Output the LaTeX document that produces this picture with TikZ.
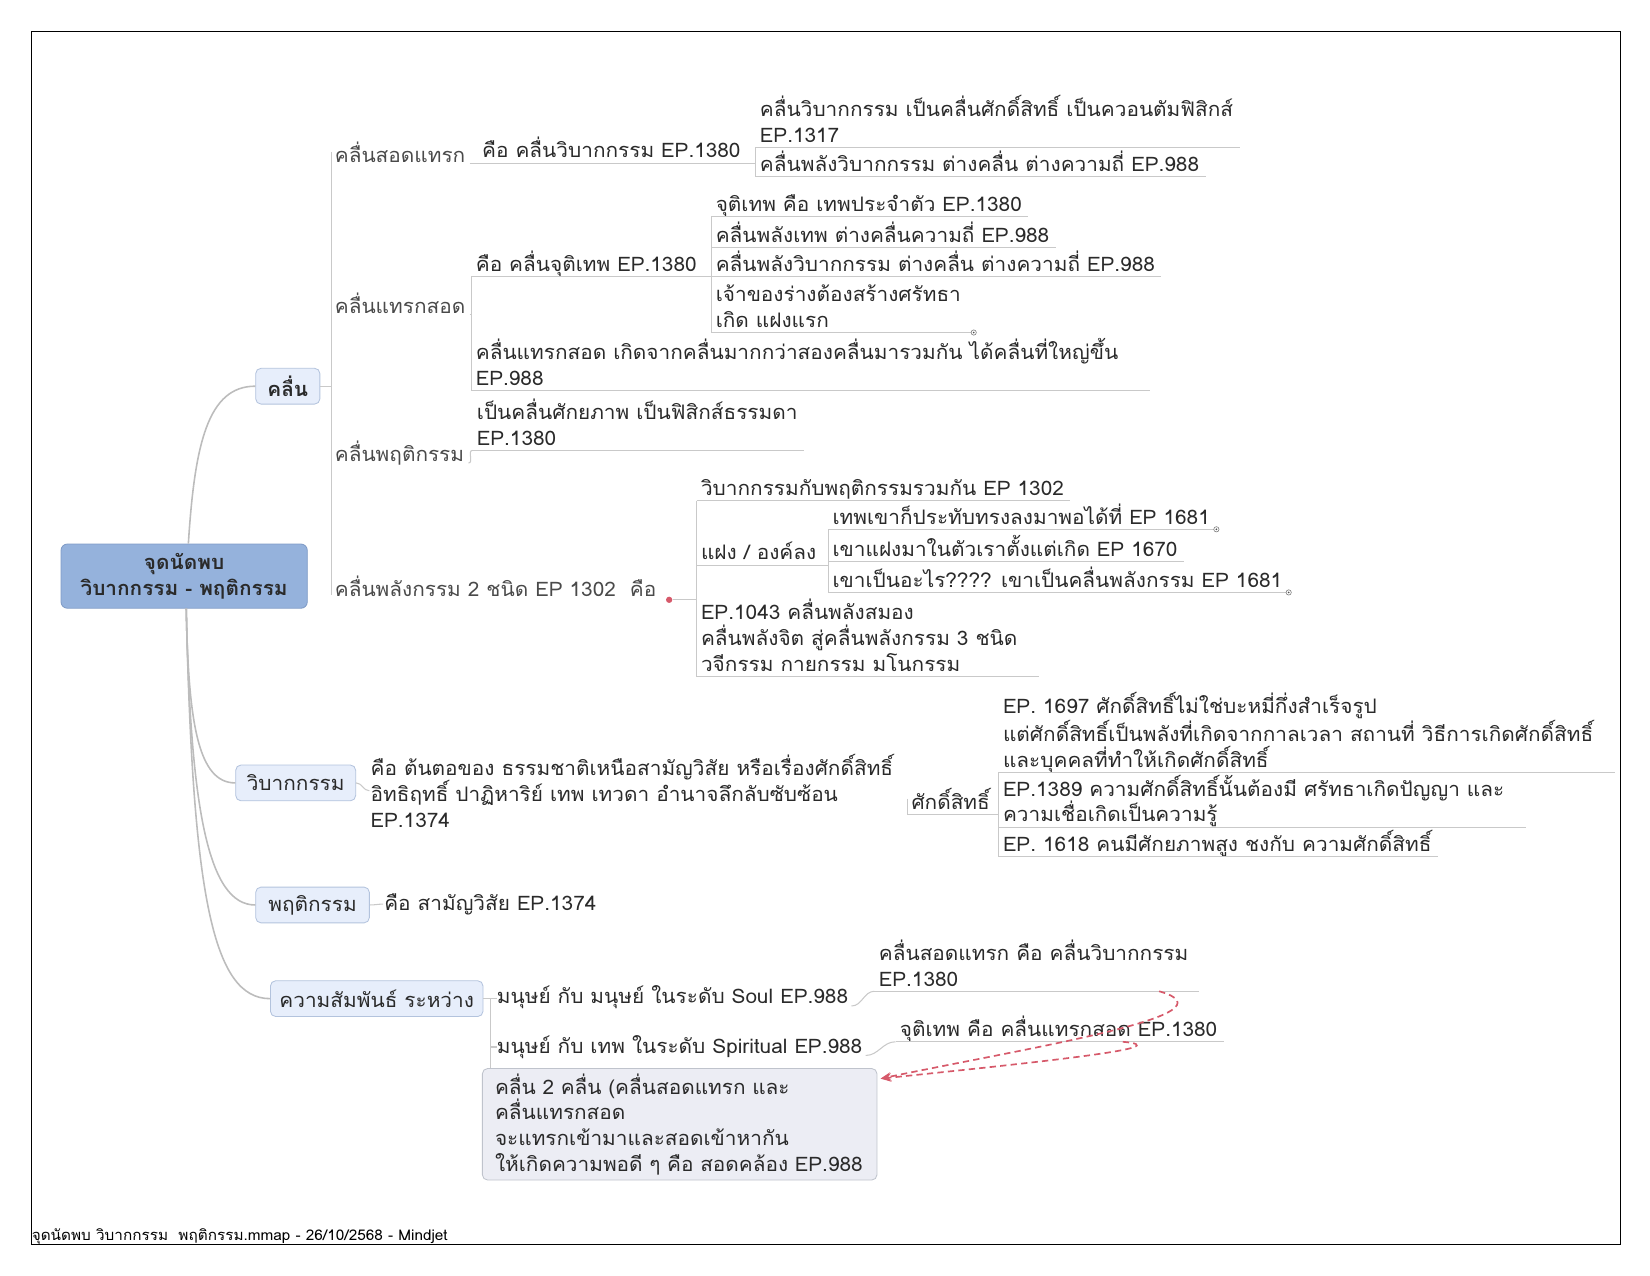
\documentclass[tikz,border=0pt]{standalone}
\usepackage{fontspec}
\setmainfont[Script=Thai, FakeStretch=1.04]{Loma}
\usetikzlibrary{arrows.meta}
\definecolor{tc}{HTML}{2A2A2A}
\definecolor{tcone}{HTML}{4A4A4A}
\definecolor{lg}{HTML}{C9C9C9}
\definecolor{mg}{HTML}{BCBCBC}
\definecolor{rootfill}{HTML}{95B2DC}
\definecolor{rootdraw}{HTML}{7F9BC6}
\definecolor{mbfill}{HTML}{E7EEFB}
\definecolor{mbdraw}{HTML}{B3C3DD}
\definecolor{notefill}{HTML}{ECEDF4}
\definecolor{notedraw}{HTML}{BFC3CC}
\definecolor{relc}{HTML}{D6596A}
\newcommand\mmfs{\fontsize{19}{24.5}\selectfont}
\newcommand\mkul[1]{\coordinate (#1-ul) at ([xshift=-4pt,yshift=-5pt]#1.base west);}
\newcommand\ulx[2][6]{\draw[uline] (#2-ul) -- ([xshift=#1pt,yshift=-5pt]#2.base east);}
\newcommand\kbar[2]{\draw[uline] (#1-ul) -- (#2-ul);}
\tikzset{
  every node/.style={inner sep=0pt},
  txt/.style={anchor=base west, align=left, text=tc, font=\mmfs},
  lvlone/.style={txt, text=tcone},
  uline/.style={draw=lg, line width=1pt},
  mainc/.style={draw=mg, line width=1.5pt},
  root/.style={draw=rootdraw, fill=rootfill, rounded corners=6pt, line width=0.8pt,
    minimum width=234pt, minimum height=61pt, align=center, text=tc, font=\mmfs\bfseries},
  mainb/.style={draw=mbdraw, fill=mbfill, rounded corners=5pt, line width=0.8pt,
    minimum height=34pt, text=tc, font=\mmfs},
  note/.style={draw=notedraw, fill=notefill, rounded corners=5pt, line width=0.8pt,
    anchor=north west, text width=351pt, minimum height=106pt, inner xsep=12pt,
    align=left, text=tc, font=\mmfs},
  dotm/.style={circle, draw=gray, fill=white, minimum size=5pt, line width=0.6pt},
  dotc/.style={circle, fill=black!70, minimum size=1.8pt},
  rel/.style={draw=relc, line width=1.6pt, dash pattern=on 6pt off 4pt,
    -{Stealth[length=10pt,width=8pt]}},
  frame/.style={draw=black, line width=1.1pt}
}
\begin{document}
\begin{tikzpicture}[x=1pt,y=-1pt]
\useasboundingbox (0,0) rectangle (1568,1212);
\draw[frame] (30,30) rectangle (1540,1183);
\node[anchor=base west, font=\fontsize{14}{16}\selectfont, text=black] (foot) at (30,1179)
  {จุดนัดพบ วิบากกรรม\ \ พฤติกรรม.mmap - 26/10/2568 - Mindjet};

% root and main topics
\node[root] (root) at (175,547.5) {จุดนัดพบ\\วิบากกรรม - พฤติกรรม};
\node[mainb, minimum width=61pt, font=\mmfs\bfseries] (kl) at (273.5,367) {คลื่น};
\node[mainb, minimum width=114pt] (vb) at (281,744) {วิบากกรรม};
\node[mainb, minimum width=108pt] (pt) at (297,860) {พฤติกรรม};
\node[mainb, minimum width=202pt] (ks) at (358,949) {ความสัมพันธ์ ระหว่าง};

\draw[mainc] ([xshift=4pt]root.north) .. controls +(6,-95) and +(-45,0) .. (kl.west);
\draw[mainc] ([xshift=2pt]root.south) .. controls +(2,110) and +(-35,0) .. (vb.west);
\draw[mainc] ([xshift=2pt]root.south) .. controls +(4,190) and +(-45,0) .. (pt.west);
\draw[mainc] ([xshift=2pt]root.south) .. controls +(6,270) and +(-55,0) .. (ks.west);

% level one under klun
\node[lvlone] (k1) at (318,154) {คลื่นสอดแทรก};
\node[lvlone] (k2) at (318,298) {คลื่นแทรกสอด};
\node[lvlone] (k3) at (318,439) {คลื่นพฤติกรรม};
\node[lvlone] (k4) at (318,567) {คลื่นพลังกรรม 2 ชนิด EP 1302\ \ คือ};
\coordinate (kbartop) at ([xshift=-3pt]k1.west);
\coordinate (kbarbot) at ([xshift=-3pt,yshift=2pt]k4.base west);
\draw[uline] (kbartop) -- (kbarbot);
\draw[uline] (kl.east) -- (kl.east -| kbartop);

% A
\node[txt] (A0) at (458,150) {คือ คลื่นวิบากกรรม EP.1380};
\node[txt] (A1) at (722,135) {คลื่นวิบากกรรม เป็นคลื่นศักดิ์สิทธิ์ เป็นควอนตัมฟิสิกส์\\EP.1317};
\node[txt] (A2) at (722,163) {คลื่นพลังวิบากกรรม ต่างคลื่น ต่างความถี่ EP.988};
\mkul{A0}\mkul{A1}\mkul{A2}
\ulx{A1}\ulx{A2}\kbar{A1}{A2}
\draw[uline] (A0-ul) -- (A0-ul -| A1-ul);
\draw[uline] ([xshift=4pt,yshift=-1pt]k1.base east) to[out=0,in=180] (A0-ul);

% B
\node[txt] (B0) at (452,258) {คือ คลื่นจุติเทพ EP.1380};
\node[txt] (B1) at (452,366) {คลื่นแทรกสอด เกิดจากคลื่นมากกว่าสองคลื่นมารวมกัน ได้คลื่นที่ใหญ่ขึ้น\\EP.988};
\mkul{B0}\mkul{B1}
\ulx[30]{B1}\kbar{B0}{B1}
\coordinate (k2e) at ([xshift=4pt,yshift=-1pt]k2.base east);
\draw[uline] (k2e) -- (k2e -| B0-ul);

% C
\node[txt] (C1) at (680,201) {จุติเทพ คือ เทพประจำตัว EP.1380};
\node[txt] (C2) at (680,230) {คลื่นพลังเทพ ต่างคลื่นความถี่ EP.988};
\node[txt] (C3) at (680,258) {คลื่นพลังวิบากกรรม ต่างคลื่น ต่างความถี่ EP.988};
\node[txt] (C4) at (680,311) {เจ้าของร่างต้องสร้างศรัทธา\\เกิด แฝงแรก};
\mkul{C1}\mkul{C2}\mkul{C3}\mkul{C4}
\ulx{C1}\ulx{C2}\ulx{C3}\ulx[12]{C4}\kbar{C1}{C4}
\draw[uline] (B0-ul) -- (B0-ul -| C1-ul);
\node[dotm] (dC4) at ([xshift=12pt,yshift=-5pt]C4.base east) {};
\node[dotc] at (dC4) {};

% D
\node[txt] (D) at (453,423) {เป็นคลื่นศักยภาพ เป็นฟิสิกส์ธรรมดา\\EP.1380};
\mkul{D}\ulx{D}
\draw[uline] ([xshift=4pt,yshift=-1pt]k3.base east) to[out=0,in=180] (D-ul);

% E
\node[circle, fill=relc, minimum size=6pt] (icon) at ([xshift=12pt,yshift=-3pt]k4.base east) {};
\node[txt] (E1) at (666,471) {วิบากกรรมกับพฤติกรรมรวมกัน EP 1302};
\node[txt] (E2) at (666,532) {แฝง / องค์ลง};
\node[txt] (E3) at (666,638) {EP.1043 คลื่นพลังสมอง\\คลื่นพลังจิต สู่คลื่นพลังกรรม 3 ชนิด\\วจีกรรม กายกรรม มโนกรรม};
\mkul{E1}\mkul{E2}\mkul{E3}
\ulx{E1}\ulx[20]{E3}\kbar{E1}{E3}
\draw[uline] (icon.east) -- (icon.east -| E1-ul);

% F
\node[txt] (F1) at (791,498) {เทพเขาก็ประทับทรงลงมาพอได้ที่ EP 1681};
\node[txt] (F2) at (791,529) {เขาแฝงมาในตัวเราตั้งแต่เกิด EP 1670};
\node[txt] (F3) at (791,558) {เขาเป็นอะไร???? เขาเป็นคลื่นพลังกรรม EP 1681};
\mkul{F1}\mkul{F2}\mkul{F3}
\ulx{F1}\ulx{F2}\ulx{F3}\kbar{F1}{F3}
\draw[uline] (E2-ul) -- (E2-ul -| F1-ul);
\node[dotm] (dF1) at ([xshift=6pt,yshift=-5pt]F1.base east) {};
\node[dotc] at (dF1) {};
\node[dotm] (dF3) at ([xshift=6pt,yshift=-5pt]F3.base east) {};
\node[dotc] at (dF3) {};

% G
\node[txt] (G) at (352,786) {คือ ต้นตอของ ธรรมชาติเหนือสามัญวิสัย หรือเรื่องศักดิ์สิทธิ์\\อิทธิฤทธิ์ ปาฏิหาริย์ เทพ เทวดา อำนาจลึกลับซับซ้อน\\EP.1374};
\draw[uline] (vb.east) to[out=0,in=180] ([xshift=-1pt]G.west);

% H
\node[txt] (H) at (866,769) {ศักดิ์สิทธิ์};
\node[txt] (H1) at (953,729) {EP. 1697 ศักดิ์สิทธิ์ไม่ใช่บะหมี่กึ่งสำเร็จรูป\\แต่ศักดิ์สิทธิ์เป็นพลังที่เกิดจากกาลเวลา สถานที่ วิธีการเกิดศักดิ์สิทธิ์\\และบุคคลที่ทำให้เกิดศักดิ์สิทธิ์};
\node[txt] (H2) at (953,781) {EP.1389 ความศักดิ์สิทธิ์นั้นต้องมี ศรัทธาเกิดปัญญา และ\\ความเชื่อเกิดเป็นความรู้};
\node[txt] (H3) at (953,809) {EP. 1618 คนมีศักยภาพสูง ชงกับ ความศักดิ์สิทธิ์};
\mkul{H}\mkul{H1}\mkul{H2}\mkul{H3}
\ulx[20]{H1}\ulx[20]{H2}\ulx{H3}\kbar{H1}{H3}
\draw[uline] ([xshift=-4pt]H.west) -- (H-ul) -- (H-ul -| H1-ul);

% I
\node[txt] (I) at (365,865) {คือ สามัญวิสัย EP.1374};
\draw[uline] (pt.east) to[out=0,in=180] ([xshift=-1pt]I.west);

% J
\node[txt] (J1) at (472,954) {มนุษย์ กับ มนุษย์ ในระดับ Soul EP.988};
\node[txt] (J2) at (472,1001) {มนุษย์ กับ เทพ ในระดับ Spiritual EP.988};
\node[note] (J3) at (458,1015) {คลื่น 2 คลื่น (คลื่นสอดแทรก และ\\คลื่นแทรกสอด\\จะแทรกเข้ามาและสอดเข้าหากัน\\ให้เกิดความพอดี ๆ คือ สอดคล้อง EP.988};
\coordinate (jbar) at ([xshift=-6pt]J1.base west);
\draw[uline] (ks.east) -- (ks.east -| J1.west);
\draw[uline] (ks.east -| jbar) -- (jbar |- J3.north);
\draw[uline] (jbar |- J2.west) -- (J2.west);

% K, L
\node[txt] (K) at (835,937) {คลื่นสอดแทรก คือ คลื่นวิบากกรรม\\EP.1380};
\node[txt] (L) at (855,985) {จุติเทพ คือ คลื่นแทรกสอด EP.1380};
\mkul{K}\mkul{L}
\ulx[10]{K}\ulx{L}
\draw[uline] ([xshift=3pt,yshift=-2pt]J1.base east) to[out=0,in=180] (K-ul);
\draw[uline] ([xshift=3pt,yshift=-2pt]J2.base east) to[out=0,in=180] (L-ul);

% relationships
\coordinate (r1) at ([xshift=-28pt,yshift=-5pt]K.base east);
\coordinate (r2) at ([xshift=-90pt,yshift=-5pt]L.base east);
\coordinate (rt) at ([xshift=3pt,yshift=-10pt]J3.north east);
\draw[rel] (r1) .. controls +(78,22) and +(144,-30) .. (rt);
\draw[rel] (r2) .. controls +(55,5) and +(164,-17) .. (rt);
\end{tikzpicture}
\end{document}
